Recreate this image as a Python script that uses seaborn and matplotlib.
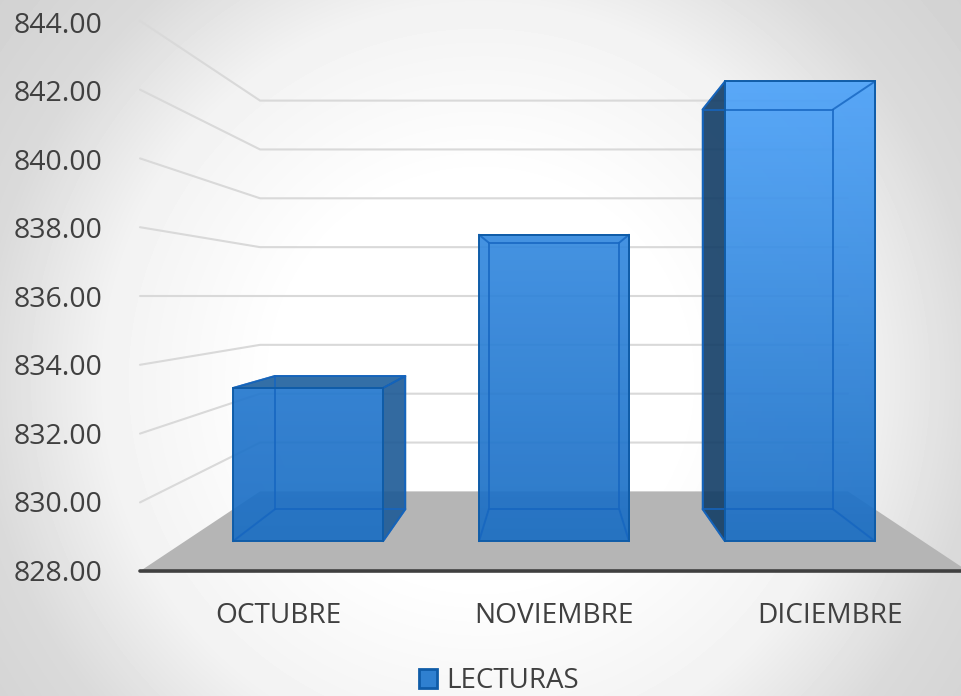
import numpy as np
import matplotlib
matplotlib.use("Agg")
import matplotlib.pyplot as plt
from matplotlib.colors import to_rgb
from matplotlib.patches import Patch, Polygon
import seaborn as sns

# Data
meses = ["OCTUBRE", "NOVIEMBRE", "DICIEMBRE"]
lecturas = [833.0, 838.0, 843.0]
ticks_y = [828, 830, 832, 834, 836, 838, 840, 842, 844]
serie = "LECTURAS"

# Perspective: s is the scale of a depth plane, front of the chart box = 1
S_BOX = 1.0
S_WALL = 0.71
S_FRONT = 0.891
S_BACK = 0.7745
VP_POS = 1.0
VP_VAL = 836.0
BASE = ticks_y[0]

sns.set_style("white")
plt.rcParams["font.family"] = ["Open Sans", "DejaVu Sans"]
TXT = "#404040"

fig = plt.figure(figsize=(9.61, 6.96), dpi=100)
ax = fig.add_axes([0, 0, 1, 1])


def project(pos, val, s):
    # data coords of the axes, which is the plane of the bar fronts
    k = s / S_FRONT
    return VP_POS + (pos - VP_POS) * k, VP_VAL + (val - VP_VAL) * k


# Pixel layout of that plane
px_pos = 276 * S_FRONT
px_val = 34.4 * S_FRONT
x_lim = (VP_POS - 554 / px_pos, VP_POS + (961 - 554) / px_pos)
y_lim = (VP_VAL - (696 - 296) / px_val, VP_VAL + 296 / px_val)

# Bars
sns.barplot(x=meses, y=lecturas, order=meses, width=0.61, ax=ax,
            fill=False, edgecolor="#0f5ca8", linewidth=1.4)

# Background
yy, xx = np.mgrid[0:696, 0:961]
dist = np.sqrt((xx - 480) ** 2 + (yy - 380) ** 2)
shade = np.interp(dist, [200, 380, 500, 640], [255, 242, 218, 208])
ax.imshow(shade, cmap="gray", vmin=0, vmax=255, aspect="auto", zorder=0,
          extent=(x_lim[0], x_lim[1], y_lim[0], y_lim[1]), origin="upper")

# Walls and floor
left, right = -0.5, 2.5
for t in ticks_y[1:]:
    pts = [project(left, t, S_BOX), project(left, t, S_WALL), project(right, t, S_WALL)]
    ax.plot(*zip(*pts), color="#d9d9d9", lw=1.5, zorder=1, solid_joinstyle="miter")

floor = [project(left, BASE, S_BOX), project(left, BASE, S_WALL),
         project(right, BASE, S_WALL), project(right, BASE, S_BOX)]
ax.add_patch(Polygon(floor, closed=True, fc="#b5b5b5", ec="none", zorder=2))
ax.plot(*zip(project(left, BASE, S_BOX), project(right, BASE, S_BOX)),
        color="#404040", lw=2.6, zorder=3, solid_capstyle="round")

# 3D faces of each bar
low_rgb = np.array(to_rgb("#196dc3"))
top_rgb = np.array(to_rgb("#4ca2f9"))
for i, (bar, val) in enumerate(zip(ax.patches, lecturas)):
    bar.set_y(BASE)
    bar.set_height(val - BASE)
    bar.set_zorder(7)
    a, b = bar.get_x(), bar.get_x() + bar.get_width()

    # front face, shading gets lighter up and to the right
    t = np.linspace(0, (val - BASE) / (max(lecturas) - BASE), 120)[:, None]
    t = t * (0.6 + 0.2 * i)
    rgba = np.zeros((120, 1, 4))
    rgba[..., :3] = (low_rgb + (top_rgb - low_rgb) * t)[:, None, :]
    rgba[..., 3] = 0.92
    ax.imshow(rgba, origin="lower", aspect="auto", zorder=5,
              extent=(a, b, BASE, val))

    fa_b, fb_t = project(a, BASE, S_FRONT), project(b, val, S_FRONT)
    ba_b, ba_t = project(a, BASE, S_BACK), project(a, val, S_BACK)
    bb_b, bb_t = project(b, BASE, S_BACK), project(b, val, S_BACK)
    fa_t, fb_b = project(a, val, S_FRONT), project(b, BASE, S_FRONT)

    # outer faces that turn towards the viewer
    if bb_t[0] > fb_t[0]:
        ax.add_patch(Polygon([fb_b, fb_t, bb_t, bb_b], fc="#1d5a96", alpha=0.9,
                             ec="#0f5ca8", lw=1.2, zorder=4))
    if ba_t[0] < fa_t[0]:
        ax.add_patch(Polygon([fa_b, fa_t, ba_t, ba_b], fc="#123d66", alpha=0.9,
                             ec="#0f5ca8", lw=1.2, zorder=4))
    if ba_t[1] > fa_t[1]:
        ax.add_patch(Polygon([fa_t, fb_t, bb_t, ba_t], fc="#1d5f9e", alpha=0.9,
                             ec="#0f5ca8", lw=1.2, zorder=4))

    # inner edges seen through the front
    edges = [[ba_b, ba_t, bb_t, bb_b, ba_b], [fa_b, ba_b], [fb_b, bb_b],
             [fa_t, ba_t], [fb_t, bb_t]]
    for edge in edges:
        ax.plot(*zip(*edge), color="#1565c0", lw=1.4, alpha=0.8, zorder=6)

# Tick labels
for t in ticks_y:
    ax.annotate(f"{t:.2f}", project(left, t, S_BOX),
                xytext=(-27, -2 - (t - BASE) * 0.1),
                textcoords="offset points", ha="right", va="center",
                fontsize=20.5, color=TXT, zorder=8)
for i, mes in enumerate(meses):
    ax.annotate(mes, project(i, BASE, S_BOX), xytext=(0, -32),
                textcoords="offset points", ha="center", va="center",
                fontsize=20.2, color=TXT, zorder=8)

ax.set_xlim(x_lim)
ax.set_ylim(y_lim)
ax.set_xlabel("")
ax.axis("off")

# Legend
handle = Patch(fc="#2f80d0", ec="#0f5ca8", lw=2, label=serie)
ax.legend(handles=[handle], loc="lower center", bbox_to_anchor=(0.519, -0.035),
          frameon=False, fontsize=20, labelcolor=TXT, handlelength=0.65,
          handleheight=0.65, handletextpad=0.32)

fig.savefig("out.png", dpi=100)
